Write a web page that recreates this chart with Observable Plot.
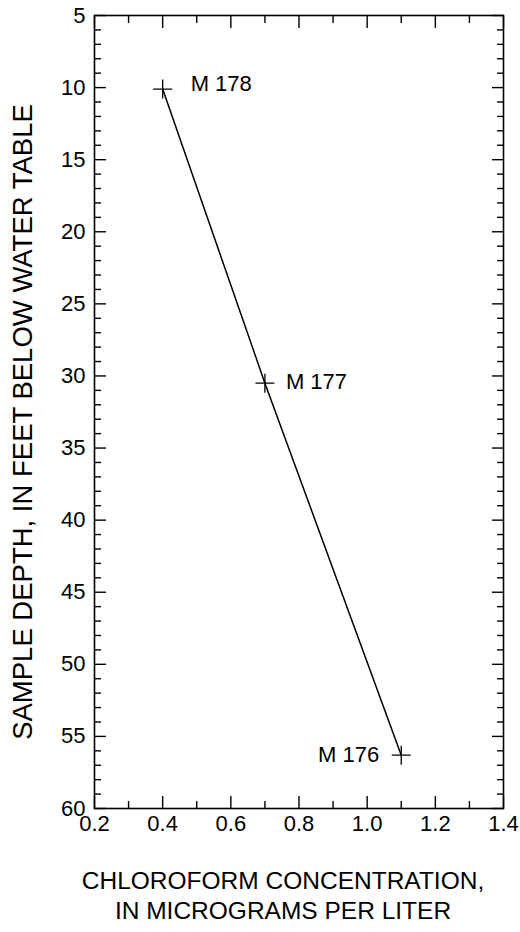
<!DOCTYPE html>
<html>
<head>
<meta charset="utf-8">
<script src="https://cdn.jsdelivr.net/npm/d3@7"></script>
<script src="https://cdn.jsdelivr.net/npm/@observablehq/plot@0.6"></script>
<style>
  html, body { margin: 0; padding: 0; background: #fff; }
</style>
</head>
<body>
<div id="chart"></div>
<script>
// Chloroform concentration versus sample depth at the M 176–178 well cluster
const wells = ["M 178", "M 177", "M 176"];
const concentration = [0.4, 0.7, 1.1];       // micrograms per liter
const depth = [10.1, 30.5, 56.3];            // feet below water table

const depthTicks = [5, 10, 15, 20, 25, 30, 35, 40, 45, 50, 55, 60];
const concTicks = [0.2, 0.4, 0.6, 0.8, 1.0, 1.2, 1.4];
const depthMinor = d3.range(5, 61, 1).filter(d => d % 5 !== 0);
const concMinor = [0.3, 0.5, 0.7, 0.9, 1.1, 1.3];

const xTitle = "CHLOROFORM CONCENTRATION,\nIN MICROGRAMS PER LITER";
const yTitle = "SAMPLE DEPTH, IN FEET BELOW WATER TABLE";

// label offsets (px) keep each well name clear of the profile line
const labelDx = [28, 21, -22];
const labelDy = [-5, -1, 0];

const samples = wells.map((w, i) => ({
  well: w, conc: concentration[i], depth: depth[i], dx: labelDx[i], dy: labelDy[i]
}));

// thin stroked plus sign
const plus = {
  draw(context, size) {
    const r = Math.sqrt(size / Math.PI);
    context.moveTo(-r, 0); context.lineTo(r, 0);
    context.moveTo(0, -r); context.lineTo(0, r);
  }
};

const fmt = d => d.toFixed(1);
const blank = () => "";

const chart = Plot.plot({
  width: 520,
  height: 932,
  marginLeft: 94,
  marginRight: 17,
  marginTop: 15,
  marginBottom: 124,
  style: { fontFamily: "'Liberation Sans', Arial, Helvetica, sans-serif", fontSize: "22px", color: "#000", background: "#fff" },
  x: { domain: [0.2, 1.4] },
  y: { domain: [5, 60], reverse: true },
  marks: [
    // left / right depth ticks (inward)
    Plot.axisY(depthTicks, { anchor: "left", tickSize: -12, tickPadding: 21, tickFormat: d => d, strokeWidth: 1.4, label: null }),
    Plot.axisY(depthMinor, { anchor: "left", tickSize: -7, tickFormat: blank, strokeWidth: 1.4, label: null }),
    Plot.axisY(depthTicks, { anchor: "right", tickSize: -12, tickFormat: blank, strokeWidth: 1.4, label: null }),
    Plot.axisY(depthMinor, { anchor: "right", tickSize: -7, tickFormat: blank, strokeWidth: 1.4, label: null }),
    // bottom / top concentration ticks (inward)
    Plot.axisX(concTicks, { anchor: "bottom", tickSize: -12, tickPadding: 19, tickFormat: fmt, strokeWidth: 1.4, label: null }),
    Plot.axisX(concMinor, { anchor: "bottom", tickSize: -7, tickFormat: blank, strokeWidth: 1.4, label: null }),
    Plot.axisX(concTicks, { anchor: "top", tickSize: -12, tickFormat: blank, strokeWidth: 1.4, label: null }),
    Plot.axisX(concMinor, { anchor: "top", tickSize: -7, tickFormat: blank, strokeWidth: 1.4, label: null }),
    Plot.frame({ stroke: "#000", strokeWidth: 1.6 }),
    Plot.line(samples, { x: "conc", y: "depth", stroke: "#000", strokeWidth: 1.5 }),
    Plot.dot(samples, { x: "conc", y: "depth", symbol: plus, r: 9.5, stroke: "#000", fill: "none", strokeWidth: 1.3 }),
    ...samples.map(s => Plot.text([s], {
      x: "conc", y: "depth", text: "well",
      textAnchor: s.dx > 0 ? "start" : "end",
      dx: s.dx, dy: s.dy, fontSize: 22, fill: "#000"
    })),
    Plot.text([yTitle], { frameAnchor: "left", textAnchor: "middle", rotate: -90, dx: -71, dy: 10, fontSize: 27.5, fill: "#000" }),
    Plot.text([xTitle], { frameAnchor: "bottom", textAnchor: "middle", lineAnchor: "top", dx: -16, dy: 59, fontSize: 24.5, lineHeight: 1.22, fill: "#000" })
  ]
});

document.getElementById("chart").appendChild(chart);
</script>
</body>
</html>
